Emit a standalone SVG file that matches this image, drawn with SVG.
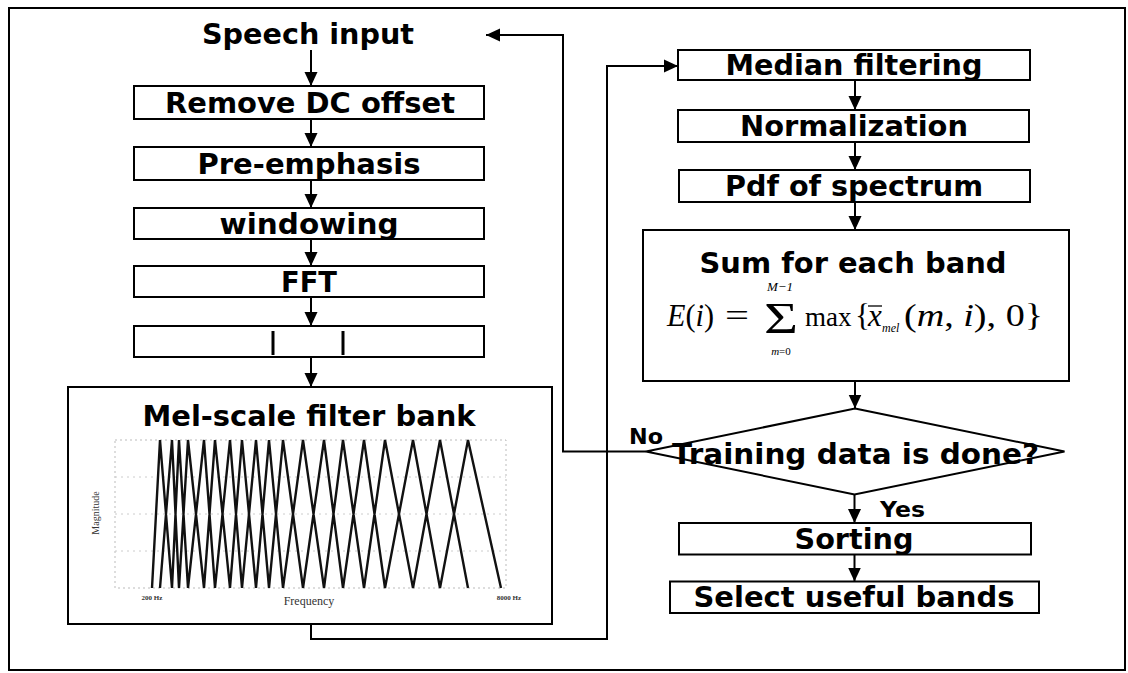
<svg xmlns="http://www.w3.org/2000/svg" width="1128" height="673" viewBox="0 0 1128 673">
<style>
.box{fill:#fff;stroke:#000;stroke-width:2}
.lbl{font-family:"DejaVu Sans",Verdana,sans-serif;font-weight:bold;font-size:28px;fill:#000;text-anchor:middle}
.sm{font-family:"DejaVu Sans",Verdana,sans-serif;font-weight:bold;font-size:21px;fill:#000}
.math{font-family:"Liberation Serif","Times New Roman",serif;fill:#000}
.it{font-style:italic}
.con{fill:none;stroke:#000;stroke-width:2}
.filt{fill:none;stroke:#111;stroke-width:2.4}
.ax{font-family:"Liberation Serif",serif;fill:#333}
</style>
<defs>
<marker id="ah" markerUnits="userSpaceOnUse" markerWidth="16" markerHeight="16" viewBox="0 0 16 16" refX="14" refY="8" orient="auto">
<path d="M0,1.5 L14,8 L0,14.5 Z" fill="#000"/>
</marker>
</defs>
<rect x="0" y="0" width="1128" height="673" fill="#fff"/>
<rect x="9" y="8" width="1116" height="662" fill="none" stroke="#000" stroke-width="2"/>

<g id="speech-input">
<text class="lbl" x="308" y="44" textLength="212" lengthAdjust="spacingAndGlyphs">Speech input</text>
</g>
<g id="remove-dc">
<rect class="box" x="134" y="86" width="350" height="33"/>
<text class="lbl" x="310" y="113" textLength="290" lengthAdjust="spacingAndGlyphs">Remove DC offset</text>
</g>
<g id="pre-emphasis">
<rect class="box" x="134" y="147" width="350" height="33"/>
<text class="lbl" x="309" y="174" textLength="223" lengthAdjust="spacingAndGlyphs">Pre-emphasis</text>
</g>
<g id="windowing">
<rect class="box" x="134" y="208" width="350" height="31"/>
<text class="lbl" x="309" y="234" textLength="179" lengthAdjust="spacingAndGlyphs">windowing</text>
</g>
<g id="fft">
<rect class="box" x="134" y="266" width="350" height="31"/>
<text class="lbl" x="309" y="292" textLength="56" lengthAdjust="spacingAndGlyphs">FFT</text>
</g>
<g id="blank-box">
<rect class="box" x="134" y="326" width="350" height="31"/>
<line x1="273" y1="331" x2="273" y2="355" stroke="#000" stroke-width="3"/>
<line x1="343" y1="331" x2="343" y2="355" stroke="#000" stroke-width="3"/>
</g>
<g id="mel-filter-bank">
<rect class="box" x="68" y="387" width="484" height="237"/>
<text class="lbl" x="309" y="426" textLength="333" lengthAdjust="spacingAndGlyphs">Mel-scale filter bank</text>
<rect x="115" y="440" width="391" height="148" fill="none" stroke="#bbb" stroke-width="1" stroke-dasharray="2 3"/>
<line x1="115" y1="477" x2="506" y2="477" stroke="#ccc" stroke-width="1" stroke-dasharray="2 4"/>
<line x1="115" y1="514" x2="506" y2="514" stroke="#ccc" stroke-width="1" stroke-dasharray="2 4"/>
<line x1="115" y1="551" x2="506" y2="551" stroke="#ccc" stroke-width="1" stroke-dasharray="2 4"/>
<path class="filt" d="M152,588 L160,440 L172,588 M160,588 L172,440 L179,588 M172,588 L179,440 L188,588 M179,588 L188,440 L204,588 M188,588 L204,440 L215,588 M204,588 L215,440 L230,588 M215,588 L230,440 L242,588 M230,588 L242,440 L256,588 M242,588 L256,440 L269,588 M256,588 L269,440 L283,588 M269,588 L283,440 L303,588 M283,588 L303,440 L324,588 M303,588 L324,440 L343,588 M324,588 L343,440 L364,588 M343,588 L364,440 L385,588 M364,588 L385,440 L413,588 M385,588 L413,440 L440,588 M413,588 L440,440 L468,588 M440,588 L468,440 L501,588"/>
<text class="ax" x="99" y="513" font-size="10" text-anchor="middle" transform="rotate(-90 99 513)">Magnitude</text>
<text class="ax" x="309" y="605" font-size="12" text-anchor="middle">Frequency</text>
<text class="ax" x="152" y="600" font-size="7" font-weight="bold" text-anchor="middle">200 Hz</text>
<text class="ax" x="509" y="600" font-size="7" font-weight="bold" text-anchor="middle">8000 Hz</text>
</g>

<g id="median-filtering">
<rect class="box" x="678" y="50" width="352" height="30"/>
<text class="lbl" x="854" y="75" textLength="257" lengthAdjust="spacingAndGlyphs">Median filtering</text>
</g>
<g id="normalization">
<rect class="box" x="678" y="110" width="351" height="32"/>
<text class="lbl" x="854" y="136" textLength="228" lengthAdjust="spacingAndGlyphs">Normalization</text>
</g>
<g id="pdf-spectrum">
<rect class="box" x="679" y="170" width="351" height="32"/>
<text class="lbl" x="854" y="196" textLength="258" lengthAdjust="spacingAndGlyphs">Pdf of spectrum</text>
</g>
<g id="sum-band">
<rect class="box" x="643" y="230" width="426" height="151"/>
<text class="lbl" x="853" y="273" textLength="307" lengthAdjust="spacingAndGlyphs">Sum for each band</text>
<text class="math" x="667" y="326" font-size="31" textLength="47" lengthAdjust="spacingAndGlyphs"><tspan class="it">E</tspan>(<tspan class="it">i</tspan>)</text>
<text class="math" x="725" y="326" font-size="31" textLength="24" lengthAdjust="spacingAndGlyphs">=</text>
<text class="math" x="764" y="333" font-size="44" textLength="34" lengthAdjust="spacingAndGlyphs">Σ</text>
<text class="math it" x="780" y="291" font-size="13" text-anchor="middle">M−1</text>
<text class="math" x="781" y="355" font-size="11" text-anchor="middle"><tspan class="it">m</tspan>=0</text>
<text class="math" y="326" font-size="31"><tspan x="805" font-size="27">max</tspan><tspan x="855">{</tspan><tspan x="868" class="it">x</tspan><tspan x="882" dy="6" class="it" font-size="12">mel</tspan></text>
<line x1="868" y1="306" x2="882" y2="306" stroke="#000" stroke-width="1.3"/>
<text class="math" x="904" y="326" font-size="32" textLength="139" lengthAdjust="spacingAndGlyphs">(<tspan class="it">m</tspan>, <tspan class="it">i</tspan>), 0}</text>
</g>
<g id="training-done">
<polygon points="855,408.5 1064.5,451.5 854.5,494.5 646,451.5" fill="#fff" stroke="#000" stroke-width="2"/>
<text class="lbl" x="855.5" y="464" textLength="367" lengthAdjust="spacingAndGlyphs">Training data is done?</text>
</g>
<g id="sorting">
<rect class="box" x="679" y="523" width="352" height="31.5"/>
<text class="lbl" x="854" y="549" textLength="119" lengthAdjust="spacingAndGlyphs">Sorting</text>
</g>
<g id="select-bands">
<rect class="box" x="670" y="581.5" width="369" height="31.5"/>
<text class="lbl" x="854" y="607" textLength="321" lengthAdjust="spacingAndGlyphs">Select useful bands</text>
</g>

<g id="connectors">
<line class="con" x1="311" y1="50" x2="311" y2="86" marker-end="url(#ah)"/>
<line class="con" x1="311" y1="119" x2="311" y2="147" marker-end="url(#ah)"/>
<line class="con" x1="311" y1="180" x2="311" y2="208" marker-end="url(#ah)"/>
<line class="con" x1="311" y1="239" x2="311" y2="266" marker-end="url(#ah)"/>
<line class="con" x1="311" y1="297" x2="311" y2="326" marker-end="url(#ah)"/>
<line class="con" x1="311" y1="357" x2="311" y2="387" marker-end="url(#ah)"/>
<polyline class="con" points="311,624 311,639 607,639 607,66 678,66" marker-end="url(#ah)"/>
<line class="con" x1="855" y1="80" x2="855" y2="110" marker-end="url(#ah)"/>
<line class="con" x1="855" y1="142" x2="855" y2="170" marker-end="url(#ah)"/>
<line class="con" x1="855" y1="202" x2="855" y2="230" marker-end="url(#ah)"/>
<line class="con" x1="855" y1="381" x2="855" y2="408.5" marker-end="url(#ah)"/>
<polyline class="con" points="646,451.5 563,451.5 563,35 486,35" marker-end="url(#ah)"/>
<line class="con" x1="854.5" y1="494.5" x2="854.5" y2="523" marker-end="url(#ah)"/>
<line class="con" x1="854.5" y1="554.5" x2="854.5" y2="581.5" marker-end="url(#ah)"/>
<text class="sm" x="629" y="444" textLength="34" lengthAdjust="spacingAndGlyphs">No</text>
<text class="sm" x="880" y="517" textLength="45" lengthAdjust="spacingAndGlyphs">Yes</text>
</g>
</svg>
